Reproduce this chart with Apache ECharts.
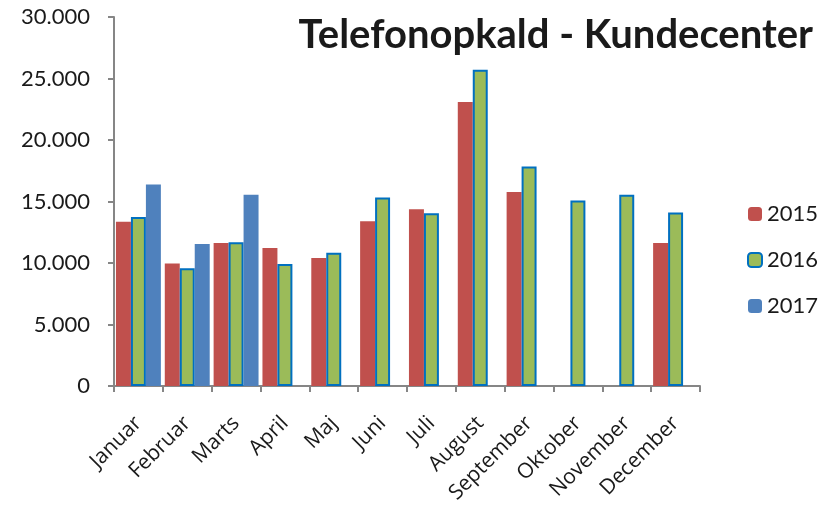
<!DOCTYPE html>
<html>
<head>
<meta charset="utf-8">
<script src="https://cdn.jsdelivr.net/npm/echarts@6/dist/echarts.min.js"></script>
<style>
  html, body { margin: 0; padding: 0; background: #fff; }
  #chart { width: 825px; height: 508px; }
</style>
</head>
<body>
<div id="chart"></div>
<script>
const months = ['Januar', 'Februar', 'Marts', 'April', 'Maj', 'Juni', 'Juli', 'August', 'September', 'Oktober', 'November', 'December']
const calls2015 = [13350, 9950, 11630, 11220, 10400, 13400, 14370, 23090, 15780, null, null, 11630]
const calls2016 = [13750, 9570, 11690, 9920, 10840, 15320, 14050, 25720, 17840, 15080, 15540, 14100]
const calls2017 = [16390, 11550, 15540, null, null, null, null, null, null, null, null, null]

const font = 'Lato, "Open Sans", sans-serif'
const labelFont = '"Open Sans", Lato, sans-serif'
const fmt = v => String(v).replace(/\B(?=(\d{3})+(?!\d))/g, '.')

const chart = echarts.init(document.getElementById('chart'))
chart.setOption({
  animation: false,
  title: {
    text: 'Telefonopkald - Kundecenter',
    right: 7, top: 10,
    textStyle: { fontFamily: font, fontWeight: 'bold', fontSize: 40, color: '#1a1a1a' }
  },
  legend: {
    orient: 'vertical', left: 742, top: 198,
    itemWidth: 14, itemHeight: 14, itemGap: 24,
    textStyle: { fontFamily: font, fontSize: 22, color: '#1a1a1a' },
    data: ['2015', '2016', '2017']
  },
  grid: { left: 114, right: 125, top: 17, bottom: 122 },
  xAxis: {
    type: 'category', data: months,
    axisLine: { lineStyle: { color: '#868686', width: 2 } },
    axisTick: { show: true, length: 6, lineStyle: { color: '#868686', width: 2 } },
    axisLabel: { rotate: 45, fontFamily: labelFont, fontSize: 21, color: '#1a1a1a', margin: 34 }
  },
  yAxis: {
    type: 'value', min: 0, max: 30000, interval: 5000,
    splitLine: { show: false },
    axisLine: { show: true, lineStyle: { color: '#868686', width: 2 } },
    axisTick: { show: true, length: 6, lineStyle: { color: '#868686', width: 2 } },
    axisLabel: { fontFamily: font, fontSize: 22, color: '#1a1a1a', margin: 24, formatter: fmt }
  },
  series: [
    { name: '2015', type: 'bar', data: calls2015, barGap: '0%', barCategoryGap: '8%',
      itemStyle: { color: '#C0504D' } },
    { name: '2016', type: 'bar', data: calls2016,
      itemStyle: { color: '#9BBB59', borderColor: '#0070C0', borderWidth: 2 } },
    { name: '2017', type: 'bar', data: calls2017,
      itemStyle: { color: '#4F81BD' } }
  ]
})
</script>
</body>
</html>
